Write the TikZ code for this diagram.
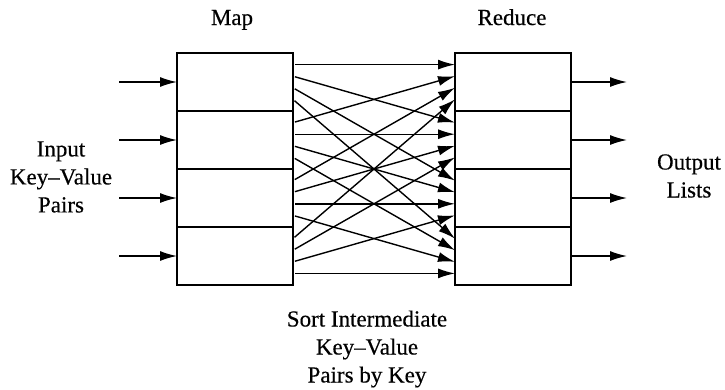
\documentclass[tikz,border=0pt]{standalone}
\usepackage{fontspec}
\setmainfont{Liberation Serif}[FakeBold=0.4]
\usetikzlibrary{
  arrows.meta,
  calc,
  positioning
}
\tikzset{>={Latex[length=17pt,width=10pt]}}
\tikzset{cell/.style={draw, line width=1.8pt, minimum width=116pt,
    minimum height=58pt, inner sep=0pt, outer sep=0pt}}
\tikzset{flow/.style={->, line width=1.4pt}}
\tikzset{lbl/.style={font=\fontsize{23}{28}\selectfont, align=center, inner sep=0pt}}

\begin{document}
\begin{tikzpicture}[x=1pt,y=-1pt]
  \useasboundingbox (0,0) rectangle (725,389);
  % map and reduce cells
  \foreach \i in {1,...,4} {
    \node[cell] (m\i) at (235,{53+58*(\i-0.5)}) {};
    \node[cell] (r\i) at (513,{53+58*(\i-0.5)}) {};
  }
  % input and output arrows
  \foreach \i in {1,...,4} {
    \coordinate[left=58pt of m\i.west] (in\i);
    \coordinate[right=56pt of r\i.east] (out\i);
    \draw[flow] (in\i) -- (m\i.west);
    \draw[flow] (r\i.east) -- (out\i);
  }
  % k-th point of map cell i goes to i-th point of reduce cell k
  \foreach \i in {1,...,4}
    \foreach \k in {1,...,4} {
      \coordinate (s\i\k) at ($(m\i.north east)!\k/5!(m\i.south east)$);
      \coordinate (t\k\i) at ($(r\k.north west)!\i/5!(r\k.south west)$);
      \draw[flow, shorten <=2pt] (s\i\k) -- (t\k\i);
    }
  \node[lbl, anchor=base] (maplbl) at (232,25) {Map};
  \node[lbl, anchor=base] (redlbl) at (512,25) {Reduce};
  \node[lbl] (inlbl) at (61,177) {Input\\Key--Value\\Pairs};
  \node[lbl] (outlbl) at (689,176) {Output\\Lists};
  \node[lbl] (sortlbl) at (367,349) {Sort Intermediate\\Key--Value\\Pairs by Key};
\end{tikzpicture}
\end{document}
